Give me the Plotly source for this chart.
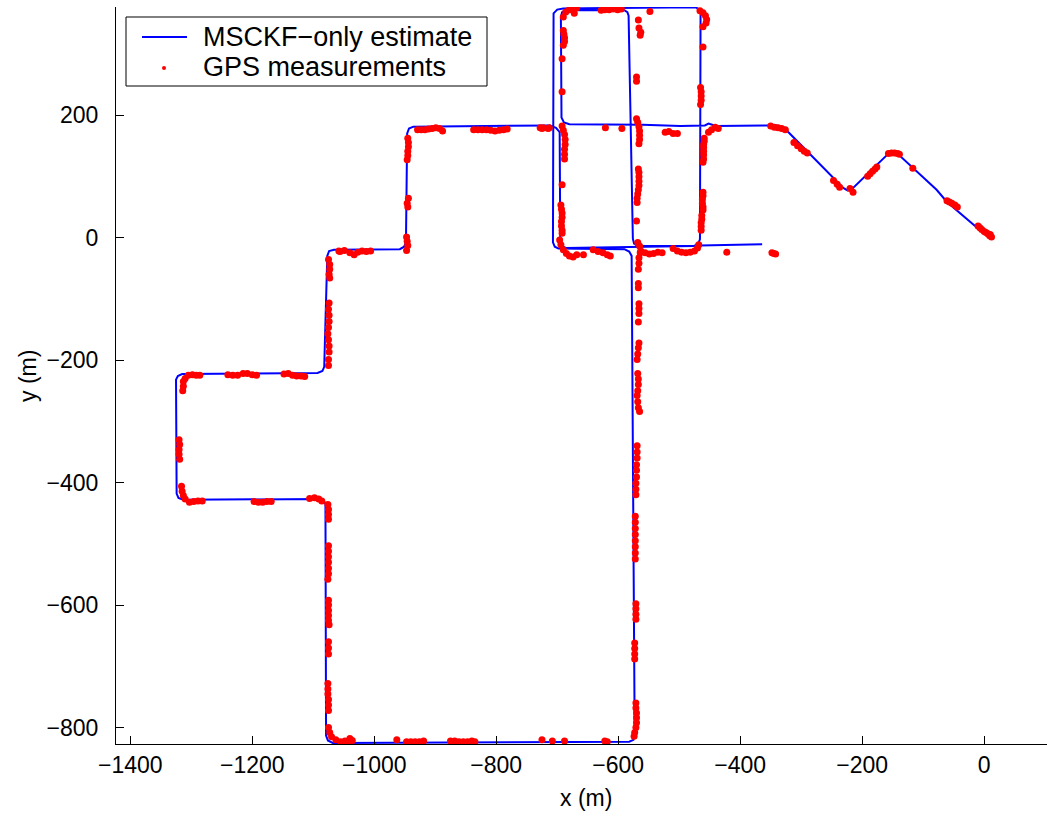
import plotly.graph_objects as go

# ---- MSCKF-only trajectory estimate (metres, local frame) ----
route_x = [
    -1, -61, -78, -140, -149, -157, -217, -224, -231, -329, -340, -351,
    -440, -446, -452, -458, -498, -560, -680, -689, -693,
    -694, -692, -686, -590, -585, -583,
    -576, -574, -568, -476, -469, -466,
    -465, -467, -473, -690, -700, -706,
    -707, -704, -698, -590, -582, -578,
    -573, -575, -582, -1068, -1076, -1079,
    -1080, -1083, -1090, -1313, -1321, -1324,
    -1325, -1322, -1315, -1093, -1085, -1082,
    -1077, -1074, -1066, -958, -951, -948,
    -946, -943, -936, -712, -702, -696,
    -695, -692, -686, -580, -476, -466, -364,
]
route_y = [
    7, 58, 78, 135, 138, 137, 79, 77, 81, 180, 183, 183,
    182, 184, 186, 183, 182, 184, 185, 188, 196,
    360, 368, 371, 371, 368, 362,
    -2, -10, -14, -14, -10, -3,
    365, 372, 376, 374, 372, 366,
    -8, -15, -18, -19, -23, -30,
    -812, -820, -823, -825, -821, -813,
    -435, -429, -427, -428, -425, -418,
    -232, -226, -223, -221, -218, -211,
    -30, -22, -20, -19, -15, -8,
    170, 178, 181, 183, 179, 172,
    -8, -14, -17, -16, -14, -13, -11,
]

# ---- GPS fixes, grouped by street ----
gps_diagonal = [
    (-10, 19), (-7, 16), (-4, 13), (0, 10), (3, 8), (6, 6), (9, 3), (12, 1), (10, 5),
    (-61, 60), (-57, 58), (-53, 56), (-48, 53), (-44, 50),
    (-117, 113),
    (-157, 137), (-152, 138), (-147, 138), (-142, 137), (-139, 136),
    (-191, 100), (-187, 104), (-183, 108), (-179, 112), (-176, 115),
    (-220, 80), (-215, 74),
    (-247, 93), (-241, 87), (-237, 82),
    (-312, 155), (-306, 150), (-300, 145), (-295, 141), (-290, 138),
    (-350, 182), (-344, 180), (-338, 179), (-332, 178), (-326, 176),
]
gps_north_street = [
    (-452, 172), (-447, 176), (-441, 180), (-436, 178),
    (-523, 172), (-517, 173), (-510, 170), (-503, 170),
    (-621, 179), (-594, 178), (-728, 179), (-723, 179), (-713, 179),
    (-929, 176), (-923, 176), (-917, 176), (-911, 177), (-905, 178), (-899, 179),
    (-893, 178), (-888, 174),
    (-837, 176), (-830, 176), (-823, 176), (-816, 176), (-809, 175), (-802, 174),
    (-795, 175), (-788, 176), (-782, 177),
    (-725, 178), (-715, 178),
]
gps_top_street = [
    (-690, 360), (-686, 368), (-680, 372), (-674, 372), (-668, 375), (-672, 366),
    (-628, 371), (-622, 372), (-615, 372), (-608, 373), (-601, 372), (-595, 373),
    (-548, 369),
    (-466, 370), (-461, 367), (-457, 362), (-455, 356), (-456, 350),
]
gps_col_690 = [
    (-690, 338), (-689, 332), (-688, 326), (-688, 320), (-690, 314),
    (-692, 292), (-692, 238),
    (-692, 182), (-690, 175), (-688, 168), (-687, 160), (-687, 152), (-688, 144),
    (-688, 136), (-688, 128),
    (-692, 86),
    (-694, 53), (-693, 46), (-692, 40), (-692, 33), (-693, 26), (-693, 19),
    (-692, 12), (-692, 7),
    (-696, -4), (-694, -12), (-690, -20), (-685, -26), (-680, -30), (-674, -32),
    (-668, -28),
]
gps_col_570_north = [
    (-567, 355), (-566, 342), (-563, 335), (-564, 330),
    (-570, 262), (-570, 255),
    (-570, 194), (-568, 188), (-566, 181), (-565, 174), (-565, 167), (-565, 160),
    (-566, 153),
    (-567, 112), (-566, 106), (-566, 99), (-566, 92), (-566, 85), (-567, 78),
    (-568, 71), (-569, 64), (-569, 57),
    (-570, 27),
    (-568, -8), (-565, -14), (-564, -25), (-566, -33), (-566, -42), (-567, -52),
]
gps_col_462 = [
    (-461, 344), (-461, 311),
    (-465, 245), (-464, 238), (-464, 231), (-464, 224), (-465, 217),
    (-459, 162), (-459, 157), (-460, 152), (-460, 147), (-460, 141), (-460, 135),
    (-460, 128), (-461, 123),
    (-461, 74), (-461, 68), (-462, 62), (-462, 56), (-461, 50), (-461, 45),
    (-463, 36), (-463, 30), (-464, 24), (-464, 18), (-464, 12),
]
gps_south_street = [
    (-657, -28), (-641, -20), (-633, -23), (-625, -25), (-618, -28), (-613, -30),
    (-563, -22), (-556, -25), (-549, -27), (-542, -26), (-535, -24), (-528, -25),
    (-510, -18), (-503, -22), (-496, -24), (-489, -25), (-482, -24), (-475, -22),
    (-470, -17), (-468, -12),
    (-422, -24), (-348, -25), (-345, -26), (-342, -27),
]
gps_col_946 = [
    (-945, 162), (-944, 155), (-944, 148), (-945, 141), (-945, 134), (-946, 127),
    (-944, 64), (-946, 56), (-945, 50),
    (-947, 1), (-946, -6), (-945, -13), (-947, -21),
]
gps_step_20 = [
    (-1058, -22), (-1056, -23), (-1049, -21), (-1040, -25), (-1033, -28),
    (-1027, -24), (-1020, -22), (-1013, -23), (-1006, -22),
]
gps_col_1075 = [
    (-1075, -36), (-1073, -44), (-1073, -52), (-1074, -60), (-1073, -66),
    (-1074, -107), (-1075, -117), (-1074, -127), (-1074, -137), (-1075, -147),
    (-1076, -157), (-1075, -167), (-1074, -177), (-1074, -187), (-1075, -199),
    (-1075, -209),
    (-1076, -436), (-1075, -444), (-1075, -452), (-1075, -460),
    (-1075, -503), (-1075, -512), (-1075, -521), (-1075, -530), (-1075, -540),
    (-1075, -549), (-1076, -558),
    (-1075, -592), (-1075, -600), (-1075, -609), (-1075, -617), (-1075, -625),
    (-1074, -632),
    (-1075, -660), (-1075, -670), (-1075, -680),
    (-1076, -728), (-1076, -737), (-1076, -745), (-1075, -754), (-1075, -763),
    (-1075, -772),
    (-1075, -800), (-1073, -808), (-1070, -815), (-1063, -820), (-1055, -823),
    (-1048, -822), (-1043, -825), (-1040, -818), (-1036, -821),
]
gps_step_223 = [
    (-1310, -230), (-1305, -225), (-1298, -224), (-1292, -225), (-1286, -225),
    (-1240, -224), (-1232, -225), (-1224, -225), (-1215, -222), (-1208, -222),
    (-1200, -224), (-1193, -225),
    (-1148, -223), (-1141, -222), (-1134, -225), (-1127, -226), (-1120, -226),
    (-1114, -227),
]
gps_col_1320 = [
    (-1313, -235), (-1313, -243), (-1314, -250),
    (-1320, -330), (-1319, -338), (-1320, -346), (-1320, -354), (-1319, -362),
    (-1316, -406), (-1315, -414), (-1313, -421),
]
gps_step_430 = [
    (-1310, -427), (-1303, -432), (-1296, -431), (-1289, -430), (-1282, -430),
    (-1197, -431), (-1190, -432), (-1183, -432), (-1176, -431), (-1169, -431),
    (-1106, -426), (-1098, -425), (-1091, -427), (-1086, -430),
]
gps_bottom_street = [
    (-963, -820), (-947, -823), (-940, -823), (-933, -823), (-926, -823), (-919, -822),
    (-875, -822), (-868, -822), (-861, -823), (-854, -823), (-847, -823),
    (-840, -822), (-835, -823),
    (-725, -820), (-708, -822), (-688, -822), (-622, -822), (-618, -823),
]
gps_col_570_south = [
    (-567, -75), (-567, -82),
    (-566, -108), (-566, -116), (-566, -124), (-567, -138),
    (-566, -172), (-567, -180), (-568, -190), (-569, -199),
    (-568, -222), (-567, -231), (-567, -240), (-568, -250), (-569, -258),
    (-568, -268), (-567, -278), (-565, -284),
    (-569, -340), (-569, -350), (-569, -360), (-570, -371), (-570, -380),
    (-570, -391), (-571, -401), (-571, -411), (-571, -420),
    (-572, -455), (-572, -465), (-572, -475), (-572, -485), (-572, -495),
    (-572, -505), (-572, -515), (-572, -525),
    (-571, -598), (-571, -606), (-571, -615), (-571, -623),
    (-573, -662), (-573, -671), (-573, -680), (-573, -688),
    (-571, -760), (-571, -768), (-570, -776), (-570, -784), (-570, -792),
    (-571, -800), (-573, -808), (-574, -814),
]

gps_streets = [
    gps_diagonal, gps_north_street, gps_top_street, gps_col_690, gps_col_570_north,
    gps_col_462, gps_south_street, gps_col_946, gps_step_20, gps_col_1075,
    gps_step_223, gps_col_1320, gps_step_430, gps_bottom_street, gps_col_570_south,
]
gps_x = [p[0] for street in gps_streets for p in street]
gps_y = [p[1] for street in gps_streets for p in street]

x_ticks = [-1400, -1200, -1000, -800, -600, -400, -200, 0]
y_ticks = [-800, -600, -400, -200, 0, 200]

# ---- page geometry ----
W, H = 1047, 816
ML, MT, MB, MR = 116, 7, 72, 0
PW, PH = W - ML - MR, H - MT - MB
FONT = "Liberation Sans, Arial, Helvetica, sans-serif"
TICK_SIZE = 23


def paper_x(px):
    return (px - ML) / PW


def paper_y(py):
    return (H - MB - py) / PH


fig = go.Figure()
fig.add_trace(go.Scatter(
    x=route_x, y=route_y, mode="lines", name="MSCKF\u2212only estimate",
    line=dict(color="#0000ff", width=2), showlegend=False,
))
fig.add_trace(go.Scatter(
    x=gps_x, y=gps_y, mode="markers", name="GPS measurements",
    marker=dict(color="#ff0000", size=7, line=dict(width=0)), showlegend=False,
))

# legend box drawn in page coordinates
shapes = [
    dict(type="rect", xref="paper", yref="paper",
         x0=paper_x(126), x1=paper_x(487), y0=paper_y(86), y1=paper_y(17),
         line=dict(color="black", width=1), fillcolor="white", layer="above"),
    dict(type="line", xref="paper", yref="paper",
         x0=paper_x(142), x1=paper_x(187), y0=paper_y(37), y1=paper_y(37),
         line=dict(color="#0000ff", width=2), layer="above"),
    dict(type="circle", xref="paper", yref="paper",
         x0=paper_x(162), x1=paper_x(166), y0=paper_y(70), y1=paper_y(66),
         line=dict(width=0), fillcolor="#ff0000", layer="above"),
]
annotations = [
    dict(text="MSCKF\u2212only estimate", xref="paper", yref="paper",
         x=paper_x(201), y=paper_y(37), xanchor="left", yanchor="middle",
         showarrow=False, font=dict(family=FONT, size=27, color="black")),
    dict(text="GPS measurements", xref="paper", yref="paper",
         x=paper_x(201), y=paper_y(67), xanchor="left", yanchor="middle",
         showarrow=False, font=dict(family=FONT, size=27, color="black")),
    dict(text="x (m)", xref="paper", yref="paper",
         x=paper_x(586), y=paper_y(798), xanchor="center", yanchor="middle",
         showarrow=False, font=dict(family=FONT, size=TICK_SIZE, color="black")),
    dict(text="y (m)", xref="paper", yref="paper", textangle=-90,
         x=paper_x(28), y=paper_y(376), xanchor="center", yanchor="middle",
         showarrow=False, font=dict(family=FONT, size=TICK_SIZE, color="black")),
]

axis_common = dict(
    showline=True, linecolor="black", linewidth=1, mirror=False,
    ticks="inside", ticklen=8, tickcolor="black", tickwidth=1,
    showgrid=False, zeroline=False,
    tickfont=dict(family=FONT, size=TICK_SIZE, color="black"),
)

fig.update_layout(
    width=W, height=H,
    margin=dict(l=ML, r=MR, t=MT, b=MB, pad=0),
    paper_bgcolor="white", plot_bgcolor="white",
    xaxis=dict(range=[-1423.4, 103.0], tickvals=x_ticks, **axis_common),
    yaxis=dict(range=[-826.8, 376.3], tickvals=y_ticks, ticklabelstandoff=12,
               **axis_common),
    shapes=shapes, annotations=annotations, showlegend=False,
)

fig.write_html("out.html")
